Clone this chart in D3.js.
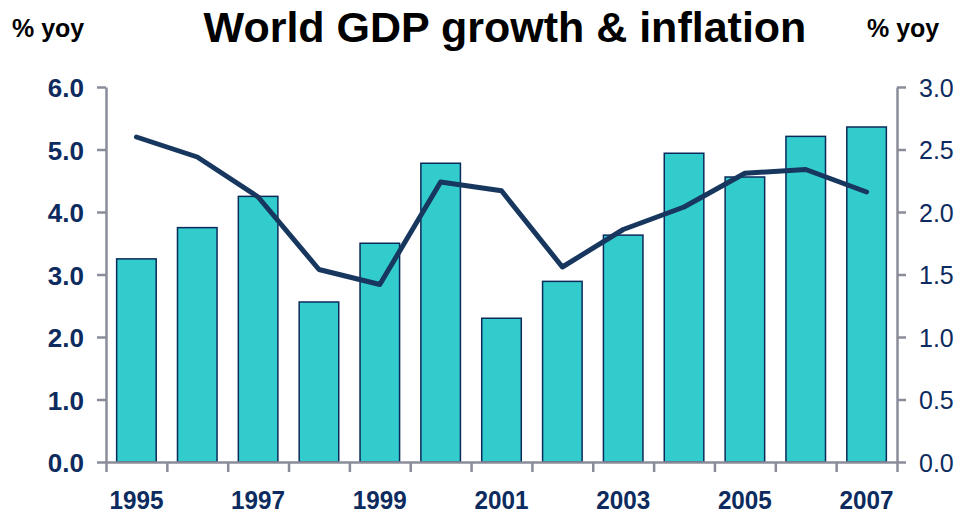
<!DOCTYPE html>
<html>
<head>
<meta charset="utf-8">
<script src="https://cdn.jsdelivr.net/npm/d3@7/dist/d3.min.js"></script>
<style>
  html, body { margin: 0; padding: 0; background: #ffffff; }
  svg { display: block; font-family: "Liberation Sans", Arial, Helvetica, sans-serif; }
</style>
</head>
<body>
<svg id="chart" width="958" height="516"></svg>
<script>
// Years on the category axis
const years = ["1995","1996","1997","1998","1999","2000","2001","2002","2003","2004","2005","2006","2007"];
// World GDP growth, % yoy (bars, left axis)
const gdpGrowth = [3.25, 3.75, 4.25, 2.56, 3.5, 4.78, 2.3, 2.89, 3.63, 4.94, 4.56, 5.21, 5.36];
// World inflation, % yoy (line, right axis)
const inflation = [2.60, 2.44, 2.12, 1.54, 1.42, 2.24, 2.17, 1.56, 1.86, 2.04, 2.31, 2.34, 2.16];
// Axis tick values
const leftTicks = [0, 1, 2, 3, 4, 5, 6];
const rightTicks = [0, 0.5, 1, 1.5, 2, 2.5, 3];
const labelledYears = ["1995","1997","1999","2001","2003","2005","2007"];

const svg = d3.select("#chart");
const plot = { left: 106, right: 897, top: 87, bottom: 462 };

const axisGrey = "#8a8c9a";
const labelNavy = "#0d2b5e";

const x = d3.scaleBand().domain(years).range([plot.left, plot.right]).paddingInner(0.35).paddingOuter(0.175);
const xEdge = d3.scaleLinear().domain([0, years.length]).range([plot.left, plot.right]);
const yL = d3.scaleLinear().domain([0, 6]).range([plot.bottom, plot.top]);
const yR = d3.scaleLinear().domain([0, 3]).range([plot.bottom, plot.top]);

// Bars
svg.append("g")
  .selectAll("rect")
  .data(years)
  .join("rect")
  .attr("x", d => x(d))
  .attr("width", x.bandwidth())
  .attr("y", (d, i) => yL(gdpGrowth[i]))
  .attr("height", (d, i) => yL(0) - yL(gdpGrowth[i]))
  .attr("fill", "#33cccc")
  .attr("stroke", "#0b2a5c")
  .attr("stroke-width", 1.5);

// Inflation line
const line = d3.line()
  .x((d, i) => x(years[i]) + x.bandwidth() / 2)
  .y(d => yR(d));
svg.append("path")
  .datum(inflation)
  .attr("d", line)
  .attr("fill", "none")
  .attr("stroke", "#17375e")
  .attr("stroke-width", 5)
  .attr("stroke-linejoin", "round")
  .attr("stroke-linecap", "round");

function styleAxis(g) {
  g.selectAll("path, line").attr("stroke", axisGrey).attr("stroke-width", 2.5);
  g.selectAll("text").attr("fill", labelNavy).attr("font-family", "\"Liberation Sans\", Arial, sans-serif");
}

// Left axis
const gL = svg.append("g")
  .attr("transform", `translate(${plot.left},0)`)
  .call(d3.axisLeft(yL).tickValues(leftTicks).tickFormat(d3.format(".1f")).tickSize(9).tickSizeOuter(0).tickPadding(13));
styleAxis(gL);
gL.selectAll("text").attr("font-size", 26).attr("font-weight", "bold").attr("dy", "0.37em");

// Right axis
const gR = svg.append("g")
  .attr("transform", `translate(${plot.right},0)`)
  .call(d3.axisRight(yR).tickValues(rightTicks).tickFormat(d3.format(".1f")).tickSize(9).tickSizeOuter(0).tickPadding(13));
styleAxis(gR);
gR.selectAll("text").attr("font-size", 25).attr("dy", "0.37em");

// Bottom axis: ticks at category boundaries
const gB = svg.append("g")
  .attr("transform", `translate(0,${plot.bottom})`)
  .call(d3.axisBottom(xEdge).tickValues(d3.range(years.length + 1)).tickFormat("").tickSize(10).tickSizeOuter(0));
styleAxis(gB);

// Year labels under every second category
svg.append("g")
  .selectAll("text")
  .data(labelledYears)
  .join("text")
  .attr("x", d => x(d) + x.bandwidth() / 2)
  .attr("y", 509)
  .attr("text-anchor", "middle")
  .attr("font-size", 25)
  .attr("font-weight", "bold")
  .attr("fill", labelNavy)
  .attr("textLength", 54)
  .attr("lengthAdjust", "spacingAndGlyphs")
  .text(d => d);

// Title and unit labels
svg.append("text")
  .attr("x", 505)
  .attr("y", 42)
  .attr("text-anchor", "middle")
  .attr("font-size", 43)
  .attr("font-weight", "bold")
  .attr("fill", "#000")
  .text("World GDP growth & inflation");

svg.append("text")
  .attr("x", 12).attr("y", 37)
  .attr("font-size", 25).attr("font-weight", "bold").attr("fill", "#000")
  .text("% yoy");

svg.append("text")
  .attr("x", 867).attr("y", 37)
  .attr("font-size", 25).attr("font-weight", "bold").attr("fill", "#000")
  .text("% yoy");
</script>
</body>
</html>
